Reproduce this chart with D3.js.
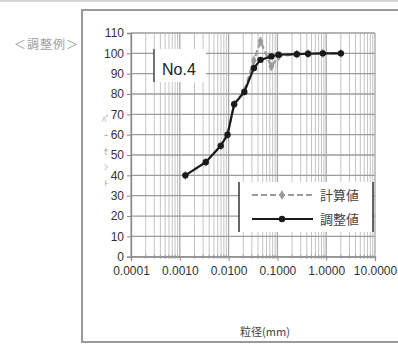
<!DOCTYPE html>
<html>
<head>
<meta charset="utf-8">
<script src="https://cdn.jsdelivr.net/npm/d3@7"></script>
<style>
  html, body { margin: 0; padding: 0; background: #fff; }
  svg { display: block; }
  text { font-family: "Liberation Sans", Arial, sans-serif; }
  .jp { font-family: "Noto Sans CJK JP", sans-serif; }
</style>
</head>
<body>
<script>
// Grain size (mm) for each sieve / hydrometer reading
const sizes = [0.0013, 0.0034, 0.0069, 0.0095, 0.013, 0.021, 0.033, 0.045, 0.075, 0.106, 0.25, 0.425, 0.85, 2.0];
// Percent passing: adjusted curve
const adjusted = [40, 46.5, 54.5, 60, 75, 81, 92.8, 96.8, 98.5, 99.3, 99.6, 99.8, 100, 100];
// Percent passing: calculated curve
const calculated = [40, 46.5, 54.5, 60, 75, 81.5, 96.5, 106, 93.5, 98.5, 99.6, 99.8, 100, 100];
// Axis ticks
const xTicks = [0.0001, 0.001, 0.01, 0.1, 1, 10];
const yTicks = [0, 10, 20, 30, 40, 50, 60, 70, 80, 90, 100, 110];
const seriesNames = ["計算値", "調整値"];

const W = 398, H = 345;
const svg = d3.select("body").append("svg").attr("width", W).attr("height", H);

// outer frame
svg.append("line").attr("x1", 0).attr("x2", W).attr("y1", 1).attr("y2", 1)
  .attr("stroke", "#c8c8c8").attr("stroke-width", 1.5);
svg.append("rect").attr("x", 82).attr("y", 10).attr("width", 330).attr("height", 332)
  .attr("fill", "#fff").attr("stroke", "#9a9a9a").attr("stroke-width", 2);

svg.append("text").attr("class", "jp").attr("x", 14).attr("y", 49)
  .attr("font-size", 12).attr("letter-spacing", 1).attr("fill", "#a0a0a0").text("＜調整例＞");

const x = d3.scaleLog().domain([0.0001, 10]).range([131, 375]);
const y = d3.scaleLinear().domain([0, 110]).range([256.7, 33]);

// minor + major vertical grid
const minor = [];
for (let e = -4; e < 1; e++) for (let m = 1; m < 10; m++) minor.push(m * Math.pow(10, e));
minor.push(10);
svg.append("g").selectAll("line").data(minor).join("line")
  .attr("x1", d => x(d)).attr("x2", d => x(d))
  .attr("y1", y(110)).attr("y2", y(0))
  .attr("stroke", d => xTicks.includes(d) ? "#a8a8a8" : "#c4c4c4")
  .attr("stroke-width", d => xTicks.includes(d) ? 1.3 : 1);

// horizontal grid
svg.append("g").selectAll("line").data(yTicks).join("line")
  .attr("x1", x(0.0001)).attr("x2", x(10))
  .attr("y1", d => y(d)).attr("y2", d => y(d))
  .attr("stroke", "#9c9c9c").attr("stroke-width", 1.3);

// axes
const yAxis = svg.append("g").attr("transform", `translate(${x(0.0001)},0)`)
  .call(d3.axisLeft(y).tickValues(yTicks).tickSize(4).tickPadding(3));
yAxis.select(".domain").attr("stroke", "#888").attr("stroke-width", 1.3);
yAxis.selectAll(".tick line").attr("stroke", "#888");
yAxis.selectAll("text").attr("font-size", 12).attr("fill", "#333");

const xAxis = svg.append("g").attr("transform", `translate(0,${y(0)})`)
  .call(d3.axisBottom(x).tickValues(xTicks).tickFormat(d3.format(".4f")).tickSize(4).tickPadding(6));
xAxis.select(".domain").attr("stroke", "#888").attr("stroke-width", 1.3);
xAxis.selectAll(".tick line").attr("stroke", "#888");
xAxis.selectAll("text").attr("font-size", 12).attr("fill", "#333");
// minor ticks crossing the x axis
svg.append("g").selectAll("line").data(minor.filter(d => !xTicks.includes(d))).join("line")
  .attr("x1", d => x(d)).attr("x2", d => x(d))
  .attr("y1", y(0) - 2).attr("y2", y(0) + 2)
  .attr("stroke", "#999");

// vertical axis title (stacked half-width katakana)
const yTitle = ["ﾊﾟ", "ｰ", "ｾ", "ﾝ", "ﾄ"];
svg.append("g").selectAll("text").data(yTitle).join("text").attr("class", "jp")
  .attr("x", 106).attr("y", (d, i) => 122 + i * 16)
  .attr("text-anchor", "middle").attr("font-size", 8).attr("fill", "#999").text(d => d);

svg.append("text").attr("class", "jp").attr("x", 265).attr("y", 336)
  .attr("text-anchor", "middle").attr("font-size", 11).attr("fill", "#444").text("粒径(mm)");

// No.4 label box
svg.append("rect").attr("x", 154).attr("y", 49).attr("width", 52).attr("height", 33).attr("fill", "#fff");
svg.append("line").attr("x1", 154).attr("x2", 154).attr("y1", 49).attr("y2", 82)
  .attr("stroke", "#444").attr("stroke-width", 1.5);
svg.append("text").attr("x", 162).attr("y", 75).attr("font-size", 16).attr("fill", "#222").text("No.4");

// curves
const line = d3.line().x((d, i) => x(sizes[i])).y(d => y(d));
svg.append("path").datum(calculated).attr("d", line)
  .attr("fill", "none").attr("stroke", "#9a9a9a").attr("stroke-width", 2.2)
  .attr("stroke-dasharray", "6,3");
const diamond = d3.symbol().type(d3.symbolDiamond).size(28);
svg.append("g").selectAll("path").data(calculated).join("path")
  .attr("transform", (d, i) => `translate(${x(sizes[i])},${y(d)})`)
  .attr("d", diamond).attr("fill", "#9a9a9a");

svg.append("path").datum(adjusted).attr("d", line)
  .attr("fill", "none").attr("stroke", "#1a1a1a").attr("stroke-width", 2.2);
svg.append("g").selectAll("circle").data(adjusted).join("circle")
  .attr("cx", (d, i) => x(sizes[i])).attr("cy", d => y(d)).attr("r", 3.2)
  .attr("fill", "#1a1a1a");

// legend
const lg = svg.append("g");
lg.append("rect").attr("x", 239).attr("y", 182).attr("width", 134).attr("height", 50).attr("fill", "#fff");
[239, 373].forEach(bx => lg.append("line").attr("x1", bx).attr("x2", bx).attr("y1", 182).attr("y2", 232)
  .attr("stroke", "#333").attr("stroke-width", 1.5));
const rows = [
  { name: seriesNames[0], color: "#9a9a9a", dash: "6,3", yy: 195, mark: "diamond" },
  { name: seriesNames[1], color: "#1a1a1a", dash: null, yy: 219, mark: "circle" }
];
rows.forEach(r => {
  lg.append("line").attr("x1", 252).attr("x2", 313).attr("y1", r.yy).attr("y2", r.yy)
    .attr("stroke", r.color).attr("stroke-width", 2).attr("stroke-dasharray", r.dash);
  if (r.mark === "diamond") lg.append("path").attr("transform", `translate(282,${r.yy})`).attr("d", diamond).attr("fill", r.color);
  else lg.append("circle").attr("cx", 282).attr("cy", r.yy).attr("r", 3.2).attr("fill", r.color);
  lg.append("text").attr("class", "jp").attr("x", 320).attr("y", r.yy + 5)
    .attr("font-size", 13).attr("fill", "#444").text(r.name);
});
</script>
</body>
</html>
